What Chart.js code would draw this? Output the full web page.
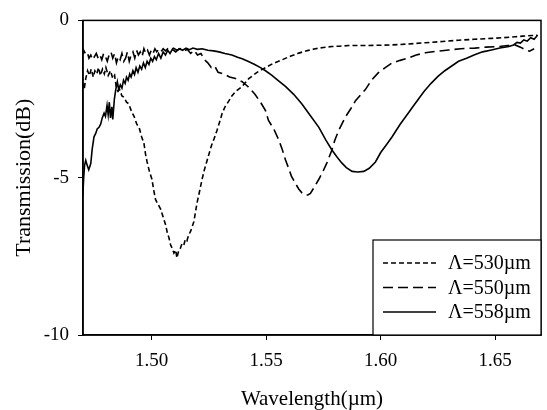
<!DOCTYPE html>
<html>
<head>
<meta charset="utf-8">
<script src="https://cdn.jsdelivr.net/npm/chart.js@4.4.0/dist/chart.umd.min.js"></script>
<style>
  html, body { margin: 0; padding: 0; background: #fff; }
  #wrap { width: 547px; height: 410px; }
</style>
</head>
<body>
<div id="wrap"><canvas id="tr-chart" width="547" height="410"></canvas></div>
<script>
// Transmission spectra of three gratings.

const xTicks = [1.50, 1.55, 1.60, 1.65];
const yTicks = [0, -5, -10];
const seriesLabels = ["\u039B=530\u00B5m", "\u039B=550\u00B5m", "\u039B=558\u00B5m"];

// period 530 um (short dash)
const wl530 = [1.4696, 1.4705, 1.4712, 1.472, 1.4728, 1.4736, 1.4745, 1.4752, 1.476, 1.4768,
  1.4776, 1.4785, 1.4793, 1.48, 1.481, 1.482, 1.483, 1.4838, 1.4845, 1.4852,
  1.486, 1.487, 1.488, 1.489, 1.490, 1.4912, 1.4923, 1.4935, 1.4945, 1.4956,
  1.4966, 1.4973, 1.498, 1.499, 1.5001, 1.5009, 1.5017, 1.5028, 1.5039, 1.505,
  1.5061, 1.5068, 1.5075, 1.5083, 1.509, 1.5097, 1.5105, 1.511, 1.5117, 1.5125,
  1.5132, 1.514, 1.5147, 1.5154, 1.516, 1.517, 1.5184, 1.5191, 1.5198, 1.521,
  1.522, 1.523, 1.524, 1.525, 1.526, 1.5273, 1.5285, 1.53, 1.5307, 1.532,
  1.5337, 1.535, 1.5366, 1.5395, 1.5424, 1.546, 1.5497, 1.553, 1.557, 1.5605,
  1.5642, 1.568, 1.5715, 1.575, 1.5787, 1.582, 1.586, 1.593, 1.599, 1.605,
  1.612, 1.6195, 1.627, 1.634, 1.641, 1.6484, 1.6535, 1.6587, 1.662, 1.666, 1.6685];
const tr530 = [-1.75, -2.2, -1.85, -1.6, -1.75, -1.55, -1.8, -1.6, -1.7, -1.5,
  -1.75, -1.55, -1.7, -1.5, -1.75, -1.6, -1.85, -1.75, -2.1, -2.25,
  -2.2, -2.4, -2.45, -2.6, -2.65, -2.9, -3.05, -3.3, -3.4, -3.7,
  -3.9, -4.25, -4.5, -4.8, -5.05, -5.4, -5.7, -5.85, -6.0, -6.25,
  -6.5, -6.75, -6.9, -7.15, -7.25, -7.4, -7.3, -7.55, -7.35, -7.25,
  -7.1, -7.15, -6.95, -7.0, -6.85, -6.7, -6.4, -6.1, -5.8, -5.4,
  -5.05, -4.75, -4.5, -4.25, -4.0, -3.75, -3.5, -3.15, -2.97, -2.75,
  -2.56, -2.4, -2.26, -2.1, -1.85, -1.65, -1.5, -1.37, -1.25, -1.14,
  -1.04, -0.96, -0.9, -0.86, -0.83, -0.82, -0.8, -0.8, -0.79, -0.78,
  -0.75, -0.71, -0.67, -0.63, -0.6, -0.57, -0.55, -0.52, -0.5, -0.48, -0.47];

// period 550 um (long dash)
const wl550 = [1.4696, 1.4703, 1.471, 1.4718, 1.4726, 1.4734, 1.4742, 1.475, 1.4758, 1.4766,
  1.4774, 1.4782, 1.479, 1.4798, 1.4806, 1.4814, 1.4822, 1.483, 1.4838, 1.4846,
  1.4854, 1.4862, 1.487, 1.4878, 1.4886, 1.4894, 1.4902, 1.491, 1.4918, 1.4926,
  1.4934, 1.4942, 1.495, 1.4958, 1.4966, 1.4974, 1.4982, 1.499, 1.4998, 1.5006,
  1.5014, 1.5022, 1.503, 1.504, 1.505, 1.506, 1.507, 1.508, 1.5095, 1.511,
  1.5125, 1.514, 1.5155, 1.517, 1.5185, 1.52, 1.5215, 1.523, 1.5245, 1.526,
  1.5275, 1.529, 1.532, 1.534, 1.5366, 1.5395, 1.542, 1.545, 1.5475, 1.5497,
  1.551, 1.5533, 1.5555, 1.557, 1.5584, 1.5598, 1.561, 1.5625, 1.5642, 1.5656,
  1.567, 1.5682, 1.5693, 1.571, 1.573, 1.5748, 1.5765, 1.5787, 1.58, 1.5817,
  1.5846, 1.587, 1.589, 1.5933, 1.596, 1.599, 1.602, 1.605, 1.6085, 1.612,
  1.6155, 1.6195, 1.6245, 1.6297, 1.635, 1.641, 1.646, 1.6515, 1.6555, 1.6587,
  1.661, 1.663, 1.665, 1.667];
const tr550 = [-1.15, -0.95, -1.05, -1.0, -1.2, -1.1, -1.25, -1.15, -1.05, -1.2,
  -1.1, -1.25, -1.05, -1.15, -1.3, -1.1, -1.0, -1.2, -1.05, -1.35,
  -1.15, -1.25, -1.05, -1.3, -1.2, -1.0, -1.3, -1.1, -1.0, -1.2,
  -0.95, -1.1, -1.0, -1.15, -0.9, -1.05, -0.95, -1.1, -0.95, -1.05,
  -0.9, -1.0, -0.92, -1.0, -0.9, -0.97, -0.9, -0.95, -0.88, -0.95,
  -0.9, -0.98, -0.92, -1.05, -0.95, -1.1, -1.05, -1.25, -1.35, -1.5,
  -1.45, -1.65, -1.72, -1.8, -1.85, -1.95, -2.1, -2.34, -2.6, -2.87,
  -3.18, -3.45, -3.8, -4.1, -4.43, -4.7, -4.95, -5.15, -5.36, -5.48,
  -5.55, -5.55, -5.5, -5.3, -5.05, -4.8, -4.53, -4.12, -3.8, -3.49,
  -3.07, -2.8, -2.55, -2.2, -1.9, -1.66, -1.5, -1.35, -1.27, -1.2,
  -1.1, -1.03, -0.98, -0.94, -0.9, -0.88, -0.85, -0.83, -0.8, -0.78,
  -0.85, -0.93, -0.98, -0.9];

// period 558 um (solid)
const wl558 = [1.4697, 1.4699, 1.4703, 1.4707, 1.4712, 1.4718, 1.4725, 1.4734, 1.474, 1.4748, 1.4755,
  1.4762, 1.477, 1.4777, 1.4784, 1.4792, 1.4798, 1.4805, 1.481, 1.4815, 1.482,
  1.4826, 1.483, 1.4837, 1.4843, 1.485, 1.4856, 1.4863, 1.487, 1.4877, 1.4884,
  1.489, 1.4897, 1.4904, 1.491, 1.4918, 1.4925, 1.4932, 1.494, 1.4948, 1.4956,
  1.4964, 1.4972, 1.498, 1.4988, 1.4996, 1.5004, 1.5012, 1.502, 1.503, 1.504,
  1.505, 1.506, 1.507, 1.508, 1.509, 1.5105, 1.512, 1.5135, 1.515, 1.5165,
  1.518, 1.52, 1.522, 1.5245, 1.527, 1.5294, 1.532, 1.535, 1.5375, 1.5395,
  1.542, 1.545, 1.5475, 1.5497, 1.5525, 1.555, 1.5584, 1.562, 1.5656, 1.569,
  1.573, 1.576, 1.5787, 1.581, 1.583, 1.585, 1.5875, 1.59, 1.5926, 1.595,
  1.5977, 1.6, 1.6025, 1.605, 1.6085, 1.612, 1.6145, 1.6165, 1.619, 1.622,
  1.625, 1.628, 1.631, 1.634, 1.6375, 1.641, 1.6445, 1.6484, 1.652, 1.656,
  1.658, 1.6595, 1.661, 1.6625, 1.664, 1.6655, 1.667, 1.6685];
const tr558 = [-5.1, -5.6, -5.0, -4.6, -4.45, -4.6, -4.75, -4.55, -4.1, -3.7, -3.6,
  -3.45, -3.4, -3.3, -3.1, -2.95, -3.05, -2.7, -3.0, -2.6, -3.1,
  -2.75, -3.15, -2.5, -2.2, -1.95, -2.2, -2.05, -2.15, -1.9, -2.0,
  -1.8, -1.9, -1.7, -1.8, -1.6, -1.72, -1.5, -1.65, -1.45, -1.55,
  -1.35, -1.5, -1.3, -1.4, -1.2, -1.3, -1.15, -1.25, -1.05, -1.2,
  -1.0, -1.1, -0.95, -1.05, -0.92, -1.0, -0.9, -0.95, -0.88, -0.93,
  -0.88, -0.92, -0.9, -0.95, -0.97, -1.0, -1.05, -1.1, -1.17, -1.22,
  -1.3, -1.4, -1.5, -1.6, -1.75, -1.9, -2.1, -2.35, -2.66, -3.0,
  -3.4, -3.8, -4.12, -4.35, -4.53, -4.68, -4.8, -4.82, -4.8, -4.7,
  -4.5, -4.2, -3.95, -3.7, -3.3, -2.95, -2.7, -2.5, -2.25, -2.0,
  -1.78, -1.6, -1.45, -1.3, -1.2, -1.09, -1.0, -0.94, -0.88, -0.83,
  -0.78, -0.7, -0.72, -0.62, -0.66, -0.55, -0.6, -0.47];

function toPoints(xs, ys) {
  return xs.map((x, i) => ({ x: x, y: ys[i] }));
}

const serif = "'Liberation Serif', 'Times New Roman', serif";
Chart.defaults.font.family = serif;
Chart.defaults.color = "#000";

// box round the plot area
const frame = {
  id: "frame",
  afterDraw(chart) {
    const { ctx, chartArea: a } = chart;
    ctx.save();
    ctx.strokeStyle = "#000";
    ctx.lineWidth = 1.5;
    ctx.strokeRect(a.left, a.top, a.right - a.left, a.bottom - a.top);
    ctx.restore();
  }
};

// legend in a box at the lower right corner of the plot
const boxLegend = {
  id: "boxLegend",
  afterDraw(chart) {
    const { ctx, chartArea: a } = chart;
    const x0 = a.right - 168;
    const y0 = a.bottom - 95;
    ctx.save();
    ctx.fillStyle = "#fff";
    ctx.fillRect(x0, y0, a.right - x0, a.bottom - y0);
    ctx.strokeStyle = "#000";
    ctx.lineWidth = 1.2;
    ctx.strokeRect(x0, y0, a.right - x0, a.bottom - y0);
    ctx.font = "20px " + serif;
    ctx.textBaseline = "middle";
    ctx.fillStyle = "#000";
    chart.data.datasets.forEach((ds, i) => {
      const y = y0 + 23 + i * 24.5;
      ctx.lineWidth = 1.4;
      ctx.setLineDash(ds.borderDash || []);
      ctx.beginPath();
      ctx.moveTo(x0 + 10, y);
      ctx.lineTo(x0 + 63, y);
      ctx.stroke();
      ctx.setLineDash([]);
      ctx.fillText(ds.label, x0 + 75, y + 1);
    });
    ctx.restore();
  }
};

const ctx = document.getElementById("tr-chart").getContext("2d");

new Chart(ctx, {
  type: "line",
  data: {
    datasets: [
      {
        label: seriesLabels[0],
        data: toPoints(wl530, tr530),
        borderColor: "#000",
        borderWidth: 1.6,
        borderDash: [5, 3],
        pointRadius: 0,
        tension: 0
      },
      {
        label: seriesLabels[1],
        data: toPoints(wl550, tr550),
        borderColor: "#000",
        borderWidth: 1.6,
        borderDash: [10, 5],
        pointRadius: 0,
        tension: 0
      },
      {
        label: seriesLabels[2],
        data: toPoints(wl558, tr558),
        borderColor: "#000",
        borderWidth: 1.6,
        pointRadius: 0,
        tension: 0
      }
    ]
  },
  options: {
    responsive: false,
    animation: false,
    layout: { padding: { top: 15, right: 6, left: 0, bottom: 0 } },
    scales: {
      x: {
        type: "linear",
        min: 1.47,
        max: 1.67,
        afterBuildTicks: (scale) => { scale.ticks = xTicks.map(v => ({ value: v })); },
        afterFit: (scale) => { scale.height = 75; },
        grid: { drawOnChartArea: false, drawTicks: true, tickLength: 5, tickColor: "#000" },
        border: { display: true, color: "#000", width: 1.5 },
        ticks: {
          padding: 10,
          font: { size: 19 },
          callback: (v) => Number(v).toFixed(2)
        },
        title: {
          display: true,
          text: "Wavelength(\u00B5m)",
          font: { size: 21, lineHeight: 1 },
          padding: { top: 0, bottom: 0 }
        }
      },
      y: {
        type: "linear",
        min: -10,
        max: 0,
        afterBuildTicks: (scale) => { scale.ticks = yTicks.map(v => ({ value: v })); },
        afterFit: (scale) => { scale.width = 83; },
        grid: { drawOnChartArea: false, drawTicks: true, tickLength: 5, tickColor: "#000" },
        border: { display: true, color: "#000", width: 1.5 },
        ticks: {
          padding: 9,
          font: { size: 19 },
          callback: (v) => String(v)
        },
        title: {
          display: true,
          text: "Transmission(dB)",
          font: { size: 22 },
          padding: { top: 11, bottom: 0 }
        }
      }
    },
    plugins: {
      legend: { display: false },
      tooltip: { enabled: false }
    }
  },
  plugins: [frame, boxLegend]
});
</script>
</body>
</html>
